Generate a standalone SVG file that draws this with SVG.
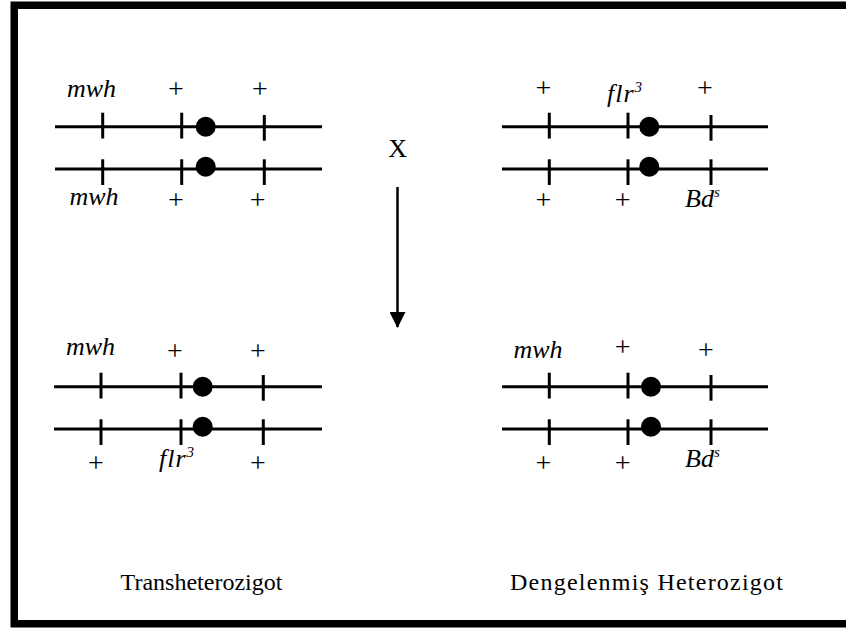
<svg xmlns="http://www.w3.org/2000/svg" width="846" height="628" viewBox="0 0 846 628">
<defs>
<style>
.t{font-family:"Liberation Serif","Times New Roman",serif;font-size:24px;fill:#000}
.i{font-style:italic;font-size:26px}
.p{font-size:28px}
.c{text-anchor:middle}
.sup{font-size:15px}
.chr{stroke:#000;stroke-width:3;fill:none}
.tk{stroke:#000;stroke-width:3}
</style>
<marker id="ah" markerWidth="16" markerHeight="16" refX="15" refY="8" orient="auto" markerUnits="userSpaceOnUse" viewBox="0 0 16 16">
<path d="M0,0 L16,8 L0,16 Z" fill="#000"/>
</marker>
</defs>
<rect width="846" height="628" fill="#fff"/>
<path d="M 846,5.25 H 14.25 V 623.75 H 846" fill="none" stroke="#000" stroke-width="7.5"/>

<g id="top-left">
<line class="chr" x1="55" y1="126.7" x2="322" y2="126.7"/>
<line class="chr" x1="55" y1="169" x2="322" y2="169"/>
<line class="tk" x1="102.7" y1="112.7" x2="102.7" y2="138.5"/>
<line class="tk" x1="181.7" y1="112.7" x2="181.7" y2="138.5"/>
<line class="tk" x1="264.3" y1="115" x2="264.3" y2="140.7"/>
<line class="tk" x1="102.7" y1="159.3" x2="102.7" y2="185"/>
<line class="tk" x1="181.7" y1="159.3" x2="181.7" y2="185"/>
<line class="tk" x1="264.3" y1="159.3" x2="264.3" y2="185"/>
<circle cx="205.7" cy="126.7" r="10"/>
<circle cx="205.7" cy="166.7" r="10"/>
<text class="t i c" x="91.5" y="97">mwh</text>
<text class="t p c" x="176" y="97.5">+</text>
<text class="t p c" x="260" y="97.5">+</text>
<text class="t i c" x="94" y="205">mwh</text>
<text class="t p c" x="176" y="208.5">+</text>
<text class="t p c" x="257.7" y="208.5">+</text>
</g>

<g id="top-right">
<line class="chr" x1="502" y1="126.7" x2="768" y2="126.7"/>
<line class="chr" x1="502" y1="169" x2="768" y2="169"/>
<line class="tk" x1="549.3" y1="112.7" x2="549.3" y2="138.5"/>
<line class="tk" x1="628" y1="112.7" x2="628" y2="138.5"/>
<line class="tk" x1="711" y1="115" x2="711" y2="140.7"/>
<line class="tk" x1="549.3" y1="159.3" x2="549.3" y2="185"/>
<line class="tk" x1="628" y1="159.3" x2="628" y2="185"/>
<line class="tk" x1="711" y1="159.3" x2="711" y2="185"/>
<circle cx="649.3" cy="126.7" r="10"/>
<circle cx="649.3" cy="166.7" r="10"/>
<text class="t p c" x="543.3" y="97">+</text>
<text class="t i" x="607" y="101.5" letter-spacing="1">flr<tspan class="sup" dy="-10">3</tspan></text>
<text class="t p c" x="705" y="97">+</text>
<text class="t p c" x="543.3" y="208.5">+</text>
<text class="t p c" x="622.7" y="208.5">+</text>
<text class="t i" x="685" y="207">Bd<tspan class="sup" dy="-10">s</tspan></text>
</g>

<g id="cross">
<text class="t c" x="397.7" y="157" style="font-size:26px">X</text>
</g>

<g id="connectors">
<line x1="397.5" y1="187" x2="397.5" y2="327" stroke="#000" stroke-width="2.5" marker-end="url(#ah)"/>
</g>

<g id="bottom-left">
<line class="chr" x1="54" y1="386.7" x2="322" y2="386.7"/>
<line class="chr" x1="54" y1="429" x2="322" y2="429"/>
<line class="tk" x1="101" y1="372.7" x2="101" y2="398.5"/>
<line class="tk" x1="181" y1="372.7" x2="181" y2="398.5"/>
<line class="tk" x1="263.3" y1="375" x2="263.3" y2="400.7"/>
<line class="tk" x1="101" y1="419.3" x2="101" y2="445"/>
<line class="tk" x1="181" y1="419.3" x2="181" y2="445"/>
<line class="tk" x1="263.3" y1="419.3" x2="263.3" y2="445"/>
<circle cx="202.7" cy="386.7" r="10"/>
<circle cx="202.7" cy="426.7" r="10"/>
<text class="t i c" x="90.5" y="355">mwh</text>
<text class="t p c" x="175" y="359.5">+</text>
<text class="t p c" x="258" y="359.5">+</text>
<text class="t p c" x="96" y="471.5">+</text>
<text class="t i" x="159" y="467" letter-spacing="1">flr<tspan class="sup" dy="-10">3</tspan></text>
<text class="t p c" x="258" y="471.5">+</text>
</g>

<g id="bottom-right">
<line class="chr" x1="502" y1="386.7" x2="768" y2="386.7"/>
<line class="chr" x1="502" y1="429" x2="768" y2="429"/>
<line class="tk" x1="549.3" y1="372.7" x2="549.3" y2="398.5"/>
<line class="tk" x1="628" y1="372.7" x2="628" y2="398.5"/>
<line class="tk" x1="711" y1="375" x2="711" y2="400.7"/>
<line class="tk" x1="549.3" y1="419.3" x2="549.3" y2="445"/>
<line class="tk" x1="628" y1="419.3" x2="628" y2="445"/>
<line class="tk" x1="711" y1="419.3" x2="711" y2="445"/>
<circle cx="651" cy="386.7" r="10"/>
<circle cx="651" cy="426.7" r="10"/>
<text class="t i c" x="538" y="357.7">mwh</text>
<text class="t p c" x="622.7" y="356">+</text>
<text class="t p c" x="706" y="358.5">+</text>
<text class="t p c" x="543.3" y="471.5">+</text>
<text class="t p c" x="622.7" y="471.5">+</text>
<text class="t i" x="685" y="467">Bd<tspan class="sup" dy="-10">s</tspan></text>
</g>

<g id="labels">
<text class="t c" x="201.5" y="590">Transheterozigot</text>
<text class="t c" x="646.5" y="590" textLength="273" lengthAdjust="spacing">Dengelenmiş Heterozigot</text>
</g>
</svg>
